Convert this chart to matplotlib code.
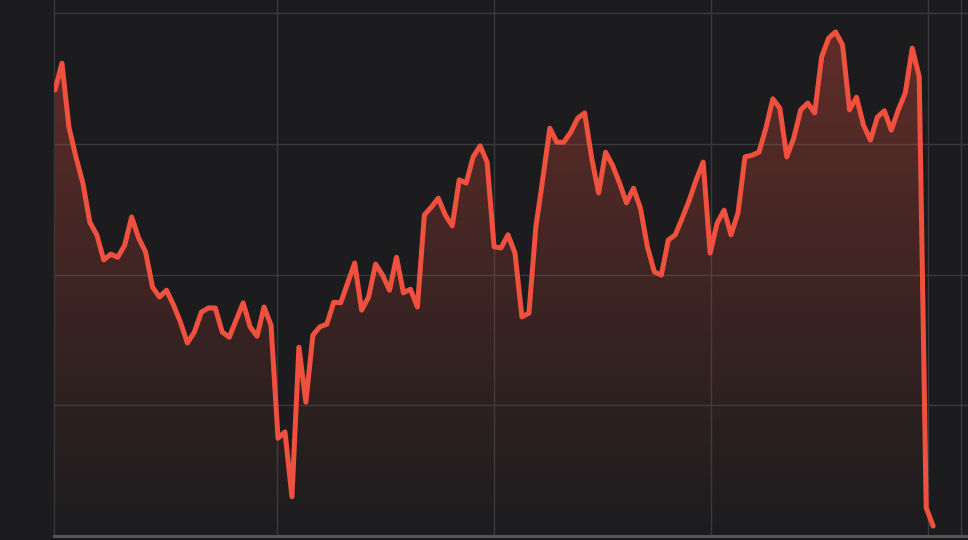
import matplotlib
matplotlib.use("Agg")
import matplotlib.pyplot as plt
import numpy as np
from matplotlib.colors import LinearSegmentedColormap

# daily values (arbitrary units, grid every 25)
values = [
    85.3, 90.4, 78.2, 72.5, 67.5, 60.0, 57.6, 52.8, 53.9, 53.3,
    55.6, 61.0, 57.0, 54.3, 47.6, 45.7, 47.0, 44.2, 40.9, 36.9,
    39.0, 42.8, 43.6, 43.6, 39.0, 38.0, 41.3, 44.6, 40.0, 38.2,
    43.8, 40.3, 18.7, 19.9, 7.5, 36.1, 25.6, 38.4, 40.0, 40.5,
    44.7, 44.6, 48.4, 52.2, 43.2, 45.7, 52.0, 49.9, 47.0, 53.3,
    46.5, 47.2, 43.8, 61.4, 62.9, 64.6, 61.4, 59.3, 68.1, 67.5,
    72.5, 74.6, 71.5, 55.3, 55.1, 57.6, 54.1, 41.9, 42.6, 59.1,
    68.4, 78.0, 75.3, 75.3, 77.2, 79.9, 80.9, 72.3, 65.6, 73.4,
    70.9, 67.5, 63.7, 66.5, 62.7, 55.3, 50.5, 49.9, 56.6, 57.6,
    60.8, 64.2, 68.1, 71.5, 54.1, 59.8, 62.3, 57.6, 61.8, 72.5,
    72.8, 73.4, 78.0, 83.6, 81.8, 72.5, 76.1, 81.5, 82.8, 80.9,
    91.6, 95.2, 96.4, 93.9, 81.5, 83.9, 78.6, 75.7, 80.1, 81.3,
    77.6, 81.5, 84.7, 93.3, 87.8, 5.4, 1.9,
]
days = np.arange(len(values))

# month boundaries (grid) in day units
month_lines = [31.85, 62.98, 94.11, 125.24, 130.0]
y_grid = [25, 50, 75, 100]

BG = "#1c1c1e"
LINE = "#f0513f"
GRID = "#3a3a3c"

fig = plt.figure(figsize=(9.68, 5.4), dpi=100, facecolor=BG)
ax = fig.add_axes([54 / 968, 4 / 540, 914 / 968, 536 / 540])
ax.set_facecolor(BG)

xmin, xmax = -0.14, 131.0
ymin, ymax = 0, 102.5
ax.set_xlim(xmin, xmax)
ax.set_ylim(ymin, ymax)

# gradient fill under the line
cmap = LinearSegmentedColormap.from_list(
    "fade", [(0.94, 0.32, 0.25, 0.0), (0.94, 0.32, 0.25, 0.34)]
)
grad = np.linspace(0, 1, 256).reshape(-1, 1)
img = ax.imshow(grad, cmap=cmap, aspect="auto", origin="lower",
                extent=[xmin, xmax, 0, 100], zorder=1)
poly = ax.fill_between(days, values, 0, color="none")
clip = poly.get_paths()[0]
img.set_clip_path(clip, transform=ax.transData)

for y in y_grid:
    ax.axhline(y, color=GRID, lw=1, zorder=0.5)
for x in month_lines:
    ax.axvline(x, color=GRID, lw=1, zorder=0.5)

ax.plot(days, values, color=LINE, lw=3.6, solid_joinstyle="round",
        solid_capstyle="round", zorder=3)

for s in ["top", "right"]:
    ax.spines[s].set_visible(False)
ax.spines["left"].set_color(GRID)
ax.spines["left"].set_linewidth(1)
ax.spines["bottom"].set_color("#5a5a5c")
ax.spines["bottom"].set_linewidth(2)
ax.set_xticks([])
ax.set_yticks([])

fig.savefig("out.png", dpi=100, facecolor=BG)
